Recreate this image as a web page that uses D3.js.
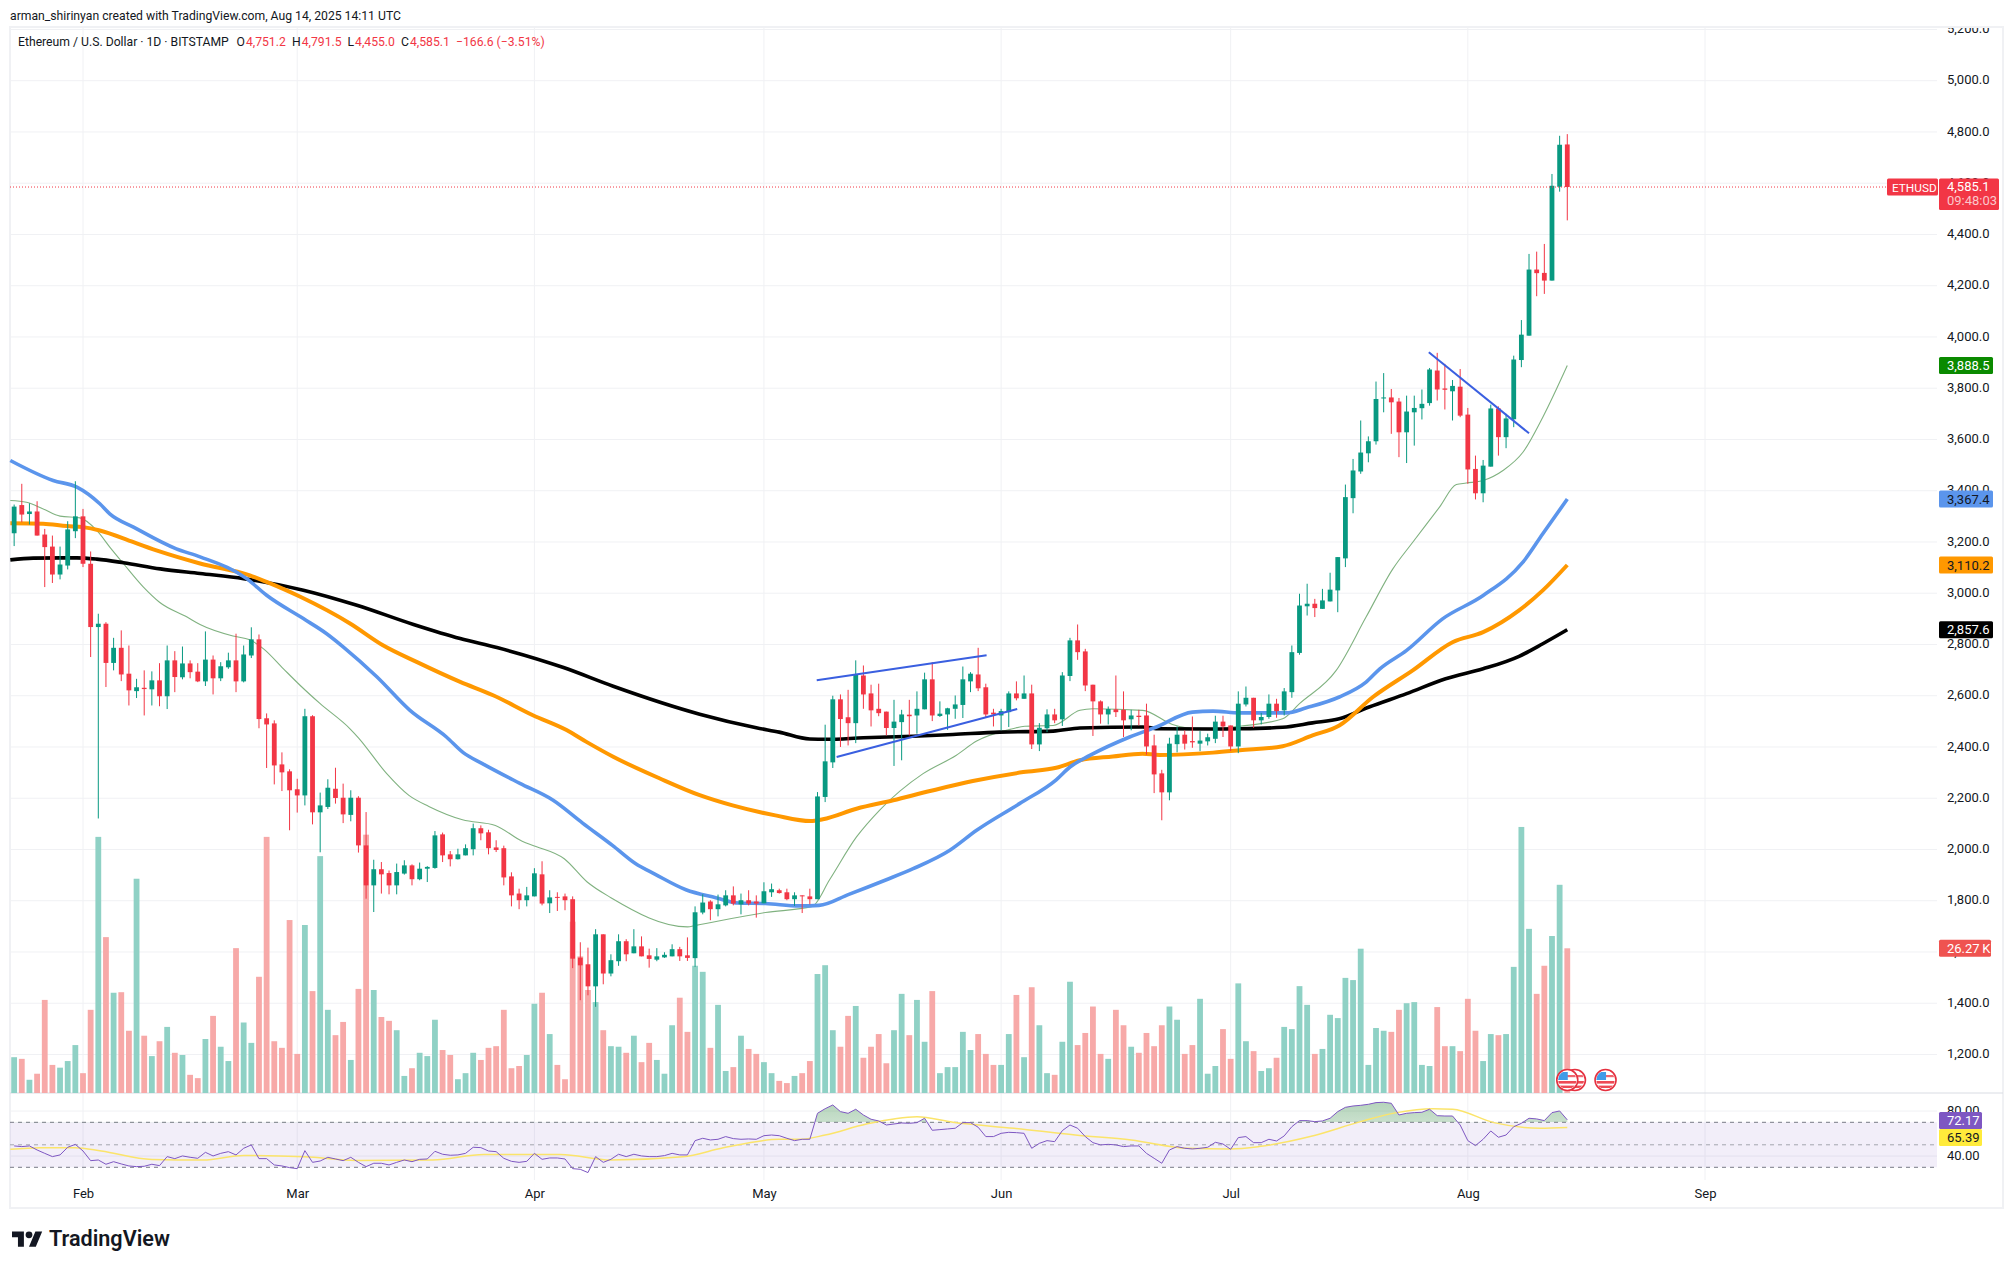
<!DOCTYPE html>
<html>
<head>
<meta charset="utf-8">
<title>ETHUSD</title>
<script src="https://cdn.jsdelivr.net/npm/d3@7"></script>
<style>
body { margin: 0; background: #fff; }
text { font-family: Roboto, sans-serif; }
</style>
</head>
<body>
<svg id="chart" width="2014" height="1269"></svg>
<script>
// daily candles, first one is 23 Jan 2025
var startDay = Date.UTC(2025, 0, 23);
var opens = [
3234,3344,3309,3319,3229,3182,3073,3108,3242,3300,3115,2868,2881,2728,2787,2686,2618,2631,2625,2660,
2598,2738,2672,2726,2694,2656,2741,2668,2711,2738,2656,2757,2820,2512,2492,2332,2305,2235,2211,2520,
2145,2166,2237,2202,2135,2202,2016,1860,1923,1908,1860,1906,1938,1884,1925,1928,2059,1981,1962,1977,
2001,2083,2067,2008,2005,1895,1828,1802,1817,1903,1790,1815,1817,1806,1578,1552,1466,1669,1516,1564,
1642,1595,1622,1587,1570,1579,1583,1611,1587,1576,1754,1797,1767,1782,1821,1786,1802,1797,1790,1833,
1841,1833,1806,1821,1817,1806,2205,2340,2586,2516,2493,2679,2609,2549,2538,2474,2497,2526,2523,2547,
2664,2521,2527,2549,2564,2656,2683,2633,2534,2523,2536,2609,2588,2609,2410,2473,2527,2508,2677,2816,
2773,2643,2578,2527,2547,2545,2508,2522,2523,2406,2297,2223,2411,2448,2423,2413,2422,2432,2499,2484,
2402,2566,2592,2504,2517,2569,2543,2614,2767,2949,2959,2939,2968,3011,3136,3371,3475,3546,3593,3760,
3764,3748,3628,3706,3722,3742,3869,3799,3788,3806,3697,3485,3390,3494,3721,3609,3679,3910,4005,4263,
4250,4220,4586,4751.2];
var highs = [
3346,3427,3351,3359,3251,3225,3182,3281,3437,3329,3163,2920,2887,2826,2855,2796,2666,2699,2695,2727,
2796,2774,2792,2738,2727,2851,2757,2731,2768,2842,2796,2867,2839,2531,2504,2379,2313,2276,2549,2524,
2222,2274,2319,2257,2231,2208,2146,1960,1951,1918,1945,1958,1942,1949,1935,2072,2066,1994,2003,2020,
2101,2094,2077,2036,2015,1911,1847,1854,1927,1954,1841,1833,1828,1817,1638,1617,1689,1669,1591,1669,
1650,1689,1661,1613,1615,1599,1630,1620,1657,1778,1825,1802,1824,1841,1856,1828,1841,1821,1872,1867,
1847,1847,1833,1821,1847,2224,2487,2600,2605,2623,2738,2718,2643,2647,2538,2584,2545,2584,2617,2690,
2731,2578,2553,2601,2714,2692,2787,2647,2549,2549,2617,2656,2679,2643,2493,2547,2549,2692,2826,2878,
2783,2643,2582,2558,2679,2617,2545,2545,2569,2448,2311,2436,2480,2465,2519,2462,2452,2522,2522,2484,
2617,2636,2592,2533,2605,2588,2630,2796,2998,3037,2978,3017,3080,3141,3424,3524,3674,3612,3826,3859,
3797,3762,3771,3771,3795,3879,3938,3895,3832,3875,3723,3537,3520,3736,3729,3700,3927,4066,4324,4333,
4363,4636,4785,4791.5];
var lows = [
3184,3277,3268,3225,3024,3040,3054,3093,3215,3102,2751,2121,2634,2699,2657,2562,2591,2523,2562,2559,
2548,2614,2664,2668,2653,2638,2605,2657,2705,2614,2652,2747,2473,2318,2254,2228,2075,2144,2172,2098,
1989,2158,2179,2103,2110,1988,1808,1756,1828,1825,1825,1902,1860,1880,1873,1925,1951,1934,1961,1977,
1977,2036,1981,1990,1860,1778,1767,1778,1817,1782,1752,1760,1763,1537,1412,1431,1386,1474,1505,1546,
1564,1595,1583,1539,1564,1577,1583,1565,1565,1542,1747,1724,1739,1778,1782,1747,1782,1734,1790,1815,
1828,1802,1780,1752,1786,1806,2185,2318,2400,2406,2415,2549,2480,2520,2445,2326,2348,2445,2452,2547,
2501,2517,2467,2510,2513,2614,2618,2517,2480,2465,2478,2582,2588,2392,2384,2458,2493,2482,2657,2740,
2618,2443,2491,2488,2517,2439,2465,2484,2370,2220,2114,2192,2379,2390,2397,2384,2406,2415,2439,2384,
2376,2558,2475,2488,2510,2514,2523,2592,2760,2913,2907,2939,2968,2926,3102,3312,3466,3511,3580,3706,
3622,3531,3508,3576,3678,3732,3752,3717,3674,3687,3427,3366,3355,3494,3537,3566,3648,3882,4005,4159,
4168,4220,4567,4455];
var closes = [
3338,3307,3319,3225,3180,3073,3112,3249,3300,3115,2868,2881,2728,2787,2683,2621,2633,2626,2660,2598,
2738,2673,2726,2692,2656,2741,2668,2715,2738,2656,2761,2820,2509,2488,2328,2301,2231,2211,2520,2145,
2172,2241,2201,2137,2202,2016,1860,1923,1903,1860,1912,1938,1884,1925,1932,2055,1977,1962,1981,2005,
2083,2063,2005,1998,1891,1821,1802,1821,1907,1789,1813,1812,1802,1574,1548,1466,1669,1516,1568,1642,
1591,1622,1583,1573,1583,1589,1611,1583,1577,1755,1793,1767,1786,1821,1789,1802,1789,1789,1837,1845,
1830,1806,1821,1820,1806,2207,2344,2586,2509,2493,2683,2605,2543,2532,2474,2499,2527,2520,2549,2664,
2523,2530,2551,2566,2664,2686,2629,2527,2527,2540,2609,2590,2609,2410,2475,2527,2504,2679,2816,2770,
2640,2578,2527,2548,2536,2504,2523,2517,2402,2293,2223,2413,2448,2413,2418,2425,2438,2499,2480,2402,
2569,2592,2504,2517,2569,2540,2617,2770,2952,2959,2942,2972,3014,3141,3375,3479,3549,3593,3758,3764,
3745,3628,3709,3723,3739,3873,3795,3794,3809,3693,3483,3390,3498,3721,3609,3682,3912,4009,4263,4249,
4220,4590,4750,4585.1];

// volume in thousands of ETH
var volumes = [
6.5,6.2,2.4,3.5,16.9,5.1,4.6,5.8,8.7,3.6,15.1,46.5,28.3,18.2,18.3,11.3,38.9,10.4,6.7,9.4,
12.0,7.3,6.9,3.3,2.7,9.8,14.0,8.4,5.8,26.3,12.8,9.1,21.1,46.5,9.4,8.2,31.4,7.1,30.5,18.5,
43.0,15.1,10.5,12.9,6.0,18.9,46.9,18.7,13.8,13.1,11.4,3.1,4.5,7.3,6.7,13.3,7.8,6.9,2.5,3.6,
7.3,6.0,8.2,8.5,15.1,4.5,4.9,6.9,16.2,18.2,10.7,5.1,2.5,31.1,24.8,18.7,16.5,11.4,8.5,8.4,
7.3,10.4,5.6,9.1,6.0,3.5,12.3,17.3,11.1,23.1,22.0,8.2,16.0,4.0,4.7,10.4,8.0,7.1,5.6,3.6,
2.2,1.8,3.1,3.6,5.8,21.6,23.2,11.4,8.4,14.0,15.8,6.4,8.4,10.7,5.4,11.4,18.0,10.5,16.9,9.3,
18.5,3.6,4.7,4.7,11.1,7.8,10.7,7.1,5.1,5.1,10.7,17.8,6.5,19.2,12.3,3.6,3.3,9.3,20.2,8.7,
10.9,15.7,7.1,6.2,15.1,12.3,8.4,7.3,10.9,8.5,12.3,15.7,13.3,7.1,8.7,17.1,3.5,4.9,11.6,6.2,
19.9,9.4,7.6,4.0,4.5,6.4,12.0,11.6,19.4,16.0,7.1,8.0,14.2,13.6,20.9,20.5,26.2,5.1,11.8,11.3,
11.1,15.1,16.3,16.5,5.1,4.9,15.6,8.5,8.5,7.6,17.1,11.3,5.8,10.7,10.5,10.7,22.9,48.3,29.8,18.0,
23.1,28.5,37.8,26.27];

var rsi = [
49.0,48.4,49.0,45.4,42.4,39.5,41.0,47.8,50.4,44.5,35.9,36.5,32.7,35.0,33.0,31.2,30.6,30.9,32.7,31.5,
39.5,37.7,40.1,38.9,38.0,43.3,40.1,42.4,43.9,41.0,46.9,49.9,37.7,37.7,32.1,31.2,29.7,28.8,44.8,34.4,
35.6,38.9,37.4,35.9,38.9,34.4,30.6,33.6,33.6,32.1,34.4,36.5,35.0,37.1,37.4,44.2,41.6,40.7,41.0,42.4,
47.8,47.5,44.5,43.9,38.0,35.3,34.4,35.3,42.4,37.1,38.3,38.3,37.4,28.8,28.2,25.3,39.5,34.4,37.1,41.6,
39.5,41.6,40.1,39.5,39.5,40.4,42.4,41.0,41.0,53.7,55.8,54.3,54.9,57.3,55.5,54.9,55.2,54.9,58.1,58.7,
58.1,55.8,53.7,54.9,54.9,78.0,82.1,85.4,79.5,78.0,81.6,76.5,72.7,71.2,67.6,68.5,69.4,69.1,69.7,73.6,
62.9,63.5,64.1,64.7,69.7,69.7,65.6,57.3,57.3,60.2,61.1,60.8,60.2,46.9,51.3,53.7,52.8,62.6,67.6,64.7,
57.3,51.9,49.9,50.4,49.9,48.4,49.0,49.0,42.4,38.0,33.6,45.4,48.4,46.9,46.3,46.9,47.8,52.2,50.7,46.0,
56.4,57.3,51.9,51.9,54.9,53.4,57.9,66.1,71.5,71.5,70.6,71.2,73.6,79.5,83.3,84.5,85.1,86.0,87.5,87.8,
86.9,76.5,78.0,78.6,78.9,81.6,75.9,75.6,75.6,67.6,53.7,49.3,54.9,62.3,56.7,58.7,66.1,69.1,73.6,73.0,
71.5,78.6,80.1,72.17];

// smoothed lines, read as day number after the first candle and value
var rsiMaDays = [-0.5,3.4,8,11.4,18,24.7,30,38,44.7,54.7,61.4,71.4,78,87.4,92.7,100,102.7,106,111.4,118,122.7,130.7,138.7,146,153.4,159,162.7,169.4,176,180.7,185.4,188,193.4,199.4,203];
var rsiMa = [46,47.4,47.4,44.5,37,36.4,40.5,39.3,36,36.4,41.4,41.4,36.4,39.3,47.4,54.9,54.9,58.7,68.5,75,70,64.7,58.7,54.3,46.9,46.3,48.4,57.3,70.6,78.6,82.1,81.6,69.7,64.7,65.39];

var greenDays = [-0.5,1.6,3.8,6,8.6,10.8,12.5,14.3,16.9,19,22.6,24.3,28.6,30.8,32.6,35.2,37.4,40,43.9,45,48.7,51.6,54.2,58.6,62.9,66.4,68.2,71.9,74.9,78,88,89.1,98.2,104.3,106.6,110.1,113.1,118.8,123.1,125.8,130.5,132.1,135.8,139.3,141,147.5,151.4,154.9,160.2,165.8,168,172.8,176.7,180.2,182.8,186.3,188.5,189.8,192,194.6,197.2,199.8,203];
var greenMa = [3362,3355,3329,3301,3294,3245,3180,3115,3024,2965,2907,2878,2833,2818,2783,2705,2640,2569,2471,2436,2296,2211,2168,2116,2094,2032,2012,1964,1873,1812,1698,1704,1754,1778,1883,2049,2153,2296,2367,2423,2471,2481,2484,2543,2549,2543,2488,2471,2481,2510,2569,2699,2907,3095,3199,3336,3424,3430,3440,3479,3550,3687,3888.5];

var blueDays = [-0.5,5.1,8.2,11.2,12.5,15.6,21.2,24.3,30.4,33,37.8,40.8,43,47.4,51.7,56.5,58.7,61.2,66.1,70.4,74.3,78.2,81.2,83.8,87.8,91.7,94.7,98.2,102.6,105.2,109.1,114,117.5,122.3,125.8,131.4,136.2,138,140.6,145.8,149.3,154,156.7,160.2,166.3,168.9,173.2,176.7,178.5,182,186.7,192,197.2,199.8,203];
var blueMa = [3518,3440,3414,3349,3310,3258,3173,3142,3057,2992,2901,2843,2791,2674,2544,2439,2378,2335,2258,2193,2103,2016,1945,1903,1843,1812,1791,1789,1780,1782,1825,1882,1925,1997,2075,2179,2272,2322,2367,2439,2478,2536,2540,2533,2533,2553,2595,2653,2705,2777,2900,2991,3121,3232,3367.4];

var orangeDays = [-0.5,3.8,6.9,9,11.2,15.6,19,24.3,30.8,33,37.4,43.9,48.2,52.6,58.3,62.6,67.8,72.2,74.8,78.3,84.4,89.6,93.9,99.5,104.1,105.7,110.1,114.9,119.7,125.3,131.9,136.2,139.3,143.6,147.5,149.7,156.7,160.2,165.8,169.7,173.2,177.6,182.8,188,192,196.7,199.8,203];
var orangeMa = [3273,3271,3262,3258,3245,3199,3163,3116,3070,3044,2986,2882,2797,2732,2654,2602,2524,2466,2420,2362,2277,2212,2172,2133,2111,2118,2159,2192,2228,2267,2302,2319,2348,2363,2374,2369,2378,2387,2403,2445,2484,2595,2699,2809,2848,2933,3011,3110.2];

var blackDays = [-0.5,2.5,8.2,10.8,14.3,19.1,24.3,30,37.8,44.8,52.2,58.3,63.1,71.8,78.3,89.6,97,100,104,106.2,111,117.5,122.7,128.8,135.8,139.3,147.5,149.7,156.7,160.2,165.8,169.7,173.2,177.1,182,187.1,192,196.7,199.8,203];
var blackMa = [3130,3137,3138,3133,3119,3095,3077,3057,3012,2953,2878,2823,2788,2710,2637,2528,2475,2458,2431,2430,2436,2442,2449,2458,2462,2474,2478,2471,2470,2471,2477,2494,2510,2556,2608,2666,2705,2754,2803,2857.6];

// hand drawn trend lines: day, price, day, price
var trendLines = [
    [104.9, 2660, 127.1, 2758],
    [107.5, 2361, 131.1, 2548],
    [184.9, 3940, 198, 3624]
];

var priceTicks = d3.range(1200, 5201, 200);
var monthNames = ['Feb', 'Mar', 'Apr', 'May', 'Jun', 'Jul', 'Aug', 'Sep'];
var monthDates = [1, 2, 3, 4, 5, 6, 7, 8].map(function(m) { return new Date(Date.UTC(2025, m, 1)); });
var rsiTicks = [80, 40];
var eventDates = [new Date(Date.UTC(2025, 7, 15)), new Date(Date.UTC(2025, 7, 14)), new Date(Date.UTC(2025, 7, 19))];

var GREEN = '#089981', RED = '#f23645';
var fmtPrice = d3.format(',.1f');

var svg = d3.select('#chart');

var x = d3.scaleUtc().domain([monthDates[0], monthDates[7]]).range([83, 1705]);
var y = d3.scaleLinear().domain([1200, 5000]).range([1054.5, 80.7]);
var yVol = d3.scaleLinear().domain([0, 26.27]).range([1093, 948.3]);
var yRsi = d3.scaleLinear().domain([30, 70]).range([1167.3, 1122.3]);

function dayX(i) { return x(new Date(startDay + i * 864e5)); }

var defs = svg.append('defs');
defs.append('clipPath').attr('id', 'paneClip').append('rect')
    .attr('x', 10).attr('y', 27).attr('width', 1993).attr('height', 1180);
defs.append('clipPath').attr('id', 'rsiTop').append('rect')
    .attr('x', 10).attr('y', 1094).attr('width', 1927).attr('height', yRsi(70) - 1094);
defs.append('clipPath').attr('id', 'axisClip').append('rect')
    .attr('x', 0).attr('y', 29).attr('width', 60).attr('height', 1100);
var grad = defs.append('linearGradient').attr('id', 'rsiGrad').attr('x1', 0).attr('x2', 0).attr('y1', 0).attr('y2', 1);
grad.append('stop').attr('offset', '0%').attr('stop-color', '#4f9a5c').attr('stop-opacity', 0.42);
grad.append('stop').attr('offset', '100%').attr('stop-color', '#4f9a5c').attr('stop-opacity', 0.02);

// header
svg.append('text').attr('x', 10).attr('y', 19.5).attr('font-size', 12.2).attr('fill', '#131722')
    .text('arman_shirinyan created with TradingView.com, Aug 14, 2025 14:11 UTC');

// frame
svg.append('rect').attr('x', 10).attr('y', 27).attr('width', 1993).attr('height', 1181)
    .attr('fill', 'none').attr('stroke', '#f0f1f4').attr('stroke-width', 2);

// grid
var grid = svg.append('g').attr('clip-path', 'url(#paneClip)');
grid.selectAll('.gv').data(monthDates).enter().append('line')
    .attr('x1', function(d) { return x(d); }).attr('x2', function(d) { return x(d); })
    .attr('y1', 27).attr('y2', 1180).attr('stroke', '#f0f1f4');
grid.selectAll('.gh').data(priceTicks).enter().append('line')
    .attr('x1', 10).attr('x2', 1937)
    .attr('y1', function(d) { return y(d); }).attr('y2', function(d) { return y(d); })
    .attr('stroke', '#f0f1f4');
grid.selectAll('.gr').data(rsiTicks).enter().append('line')
    .attr('x1', 10).attr('x2', 1937)
    .attr('y1', function(d) { return yRsi(d); }).attr('y2', function(d) { return yRsi(d); })
    .attr('stroke', '#f0f1f4');
svg.append('line').attr('x1', 10).attr('x2', 2003).attr('y1', 1093).attr('y2', 1093).attr('stroke', '#d9dce3');

// volume bars
svg.append('g').selectAll('rect').data(volumes).enter().append('rect')
    .attr('x', function(d, i) { return dayX(i) - 2.9; })
    .attr('width', 5.8)
    .attr('y', function(d) { return yVol(d); })
    .attr('height', function(d) { return yVol(0) - yVol(d); })
    .attr('fill', function(d, i) { return closes[i] >= opens[i] ? '#8fd1c5' : '#f7a9a8'; });

// moving averages
var maLine = d3.line()
    .x(function(d) { return dayX(d[0]); })
    .y(function(d) { return y(d[1]); })
    .curve(d3.curveMonotoneX);

function drawMa(days, values, color, width) {
    svg.append('path').datum(d3.zip(days, values))
        .attr('d', maLine)
        .attr('fill', 'none')
        .attr('stroke', color)
        .attr('stroke-width', width);
}
drawMa(greenDays, greenMa, '#80b280', 1.1);
drawMa(blackDays, blackMa, '#000000', 3.6);
drawMa(orangeDays, orangeMa, '#ff9800', 4);
drawMa(blueDays, blueMa, '#5b95ec', 3.6);

// candles
var candles = svg.append('g').selectAll('g').data(closes).enter().append('g')
    .attr('fill', function(d, i) { return d >= opens[i] ? GREEN : RED; })
    .attr('stroke', function(d, i) { return d >= opens[i] ? GREEN : RED; });
candles.append('line')
    .attr('x1', function(d, i) { return dayX(i); }).attr('x2', function(d, i) { return dayX(i); })
    .attr('y1', function(d, i) { return y(highs[i]); })
    .attr('y2', function(d, i) { return y(lows[i]); })
    .attr('stroke-width', 1);
candles.append('rect')
    .attr('x', function(d, i) { return dayX(i) - 2.4; })
    .attr('width', 4.8)
    .attr('y', function(d, i) { return y(Math.max(d, opens[i])); })
    .attr('height', function(d, i) { return Math.max(1, Math.abs(y(d) - y(opens[i]))); })
    .attr('stroke', 'none');

// trend lines
svg.append('g').selectAll('line').data(trendLines).enter().append('line')
    .attr('x1', function(d) { return dayX(d[0]); }).attr('y1', function(d) { return y(d[1]); })
    .attr('x2', function(d) { return dayX(d[2]); }).attr('y2', function(d) { return y(d[3]); })
    .attr('stroke', '#3a5fe0').attr('stroke-width', 2);

// last price line
svg.append('line').attr('x1', 10).attr('x2', 1887)
    .attr('y1', y(4585.1)).attr('y2', y(4585.1))
    .attr('stroke', RED).attr('stroke-dasharray', '1 2');

// event flags
defs.append('clipPath').attr('id', 'flagClip').append('circle').attr('r', 9.2);
var flags = svg.append('g').selectAll('g').data(eventDates).enter().append('g')
    .attr('transform', function(d) { return 'translate(' + x(d) + ',1080)'; });
flags.append('circle').attr('r', 10.5).attr('fill', '#fff').attr('stroke', '#e5303f').attr('stroke-width', 1.6);
var flagBody = flags.append('g').attr('clip-path', 'url(#flagClip)');
flagBody.append('rect').attr('x', -10).attr('y', -5).attr('width', 20).attr('height', 2.2).attr('fill', '#f0656f');
flagBody.append('rect').attr('x', -10).attr('y', 1).attr('width', 20).attr('height', 2.6).attr('fill', '#ee4a55');
flagBody.append('rect').attr('x', -10).attr('y', 5.6).attr('width', 20).attr('height', 2.4).attr('fill', '#ee4a55');
flagBody.append('rect').attr('x', -10).attr('y', -8).attr('width', 10.5).attr('height', 8).attr('fill', '#3f9be8');

// RSI pane
svg.append('rect').attr('x', 10).attr('width', 1927)
    .attr('y', yRsi(70)).attr('height', yRsi(30) - yRsi(70))
    .attr('fill', '#7e57c2').attr('fill-opacity', 0.1);
[70, 50, 30].forEach(function(level) {
    svg.append('line').attr('x1', 10).attr('x2', 1937)
        .attr('y1', yRsi(level)).attr('y2', yRsi(level))
        .attr('stroke', level === 50 ? '#a3a5ae' : '#787b86')
        .attr('stroke-dasharray', '4 4');
});
var rsiArea = d3.area()
    .x(function(d, i) { return dayX(i); })
    .y0(yRsi(70))
    .y1(function(d) { return yRsi(d); });
svg.append('path').datum(rsi).attr('d', rsiArea)
    .attr('fill', 'url(#rsiGrad)').attr('clip-path', 'url(#rsiTop)');
svg.append('path').datum(d3.zip(rsiMaDays, rsiMa))
    .attr('d', d3.line()
        .x(function(d) { return dayX(d[0]); })
        .y(function(d) { return yRsi(d[1]); })
        .curve(d3.curveMonotoneX))
    .attr('fill', 'none').attr('stroke', '#fbe46a').attr('stroke-width', 1.5);
svg.append('path').datum(rsi)
    .attr('d', d3.line()
        .x(function(d, i) { return dayX(i); })
        .y(function(d) { return yRsi(d); }))
    .attr('fill', 'none').attr('stroke', '#7e57c2').attr('stroke-width', 1);

// axes
function styleAxis(g) {
    g.select('.domain').remove();
    g.selectAll('line').remove();
    g.selectAll('text').attr('font-size', 13).attr('fill', '#131722');
}
svg.append('g').attr('transform', 'translate(1947,-1)').attr('clip-path', 'url(#axisClip)')
    .call(d3.axisRight(y).tickValues(priceTicks).tickFormat(fmtPrice).tickSize(0).tickPadding(0))
    .call(styleAxis);
svg.append('g').attr('transform', 'translate(1947,-0.5)')
    .call(d3.axisRight(yRsi).tickValues(rsiTicks).tickFormat(d3.format('.2f')).tickSize(0).tickPadding(0))
    .call(styleAxis);
svg.append('g').attr('transform', 'translate(0,1189)')
    .call(d3.axisBottom(x).tickValues(monthDates)
        .tickFormat(function(d, i) { return monthNames[i]; }).tickSize(0).tickPadding(0))
    .call(styleAxis);

// value tags on the price scale
function priceTag(x0, x1, y0, y1, color, textColor, label, size) {
    svg.append('rect').attr('x', x0).attr('y', y0).attr('width', x1 - x0).attr('height', y1 - y0)
        .attr('rx', 1.5).attr('fill', color);
    return svg.append('text').attr('x', x0 + 8).attr('y', (y0 + y1) / 2 + 4.6)
        .attr('font-size', size || 13).attr('fill', textColor).text(label);
}
var lastY = y(4585.1);
priceTag(1887, 1938, lastY - 8.5, lastY + 8.5, RED, '#fff', 'ETHUSD', 11.8).attr('x', 1892);
priceTag(1939, 1999, lastY - 8.5, lastY + 23, RED, '#fff', fmtPrice(closes[203])).attr('y', lastY + 4.4);
svg.append('text').attr('x', 1947).attr('y', lastY + 18).attr('font-size', 13)
    .attr('fill', '#fbc7cb').text('09:48:03');
priceTag(1939, 1993, y(3888.5) - 8.5, y(3888.5) + 8.5, '#0a8a00', '#fff', fmtPrice(greenMa[greenMa.length - 1]));
priceTag(1939, 1993, y(3367.4) - 8.5, y(3367.4) + 8.5, '#5b95ec', '#131722', fmtPrice(blueMa[blueMa.length - 1]));
priceTag(1939, 1993, y(3110.2) - 8.5, y(3110.2) + 8.5, '#ff9800', '#131722', fmtPrice(orangeMa[orangeMa.length - 1]));
priceTag(1939, 1993, y(2857.6) - 8.5, y(2857.6) + 8.5, '#000000', '#fff', fmtPrice(blackMa[blackMa.length - 1]));
priceTag(1939, 1991, yVol(26.27) - 8.5, yVol(26.27) + 8.5, '#ef5350', '#fff', '26.27\u2009K');
priceTag(1939, 1982, 1112, 1129, '#7e57c2', '#fff', d3.format('.2f')(rsi[203]));
priceTag(1939, 1982, 1129, 1146, '#ffeb3b', '#131722', d3.format('.2f')(rsiMa[rsiMa.length - 1]));

// legend line
var legend = svg.append('text').attr('x', 18).attr('y', 46).attr('font-size', 12.2).attr('fill', '#131722');
legend.append('tspan').text('Ethereum / U.S. Dollar \u00b7 1D \u00b7 BITSTAMP');
var legendParts = [['O', opens[203]], ['H', highs[203]], ['L', lows[203]], ['C', closes[203]]];
var legendX = [236.5, 292, 347.5, 401];
legendParts.forEach(function(p, i) {
    legend.append('tspan').attr('x', legendX[i]).text(p[0]);
    legend.append('tspan').attr('fill', RED).attr('dx', 1).text(fmtPrice(p[1]));
});
legend.append('tspan').attr('x', 456).attr('fill', RED).text('\u2212166.6 (\u22123.51%)');

// logo
svg.append('path').attr('transform', 'translate(12,1228) scale(0.85)')
    .attr('fill', '#131722')
    .attr('d', 'M14 22H7V11H0V4h14v18zM28 22h-8l7.5-18h8L28 22z');
svg.append('circle').attr('cx', 12 + 20 * 0.85).attr('cy', 1228 + 8 * 0.85).attr('r', 3.4).attr('fill', '#131722');
svg.append('text').attr('x', 49).attr('y', 1246).attr('font-size', 21.6).attr('font-weight', 600)
    .attr('fill', '#131722').text('TradingView');
</script>
</body>
</html>
